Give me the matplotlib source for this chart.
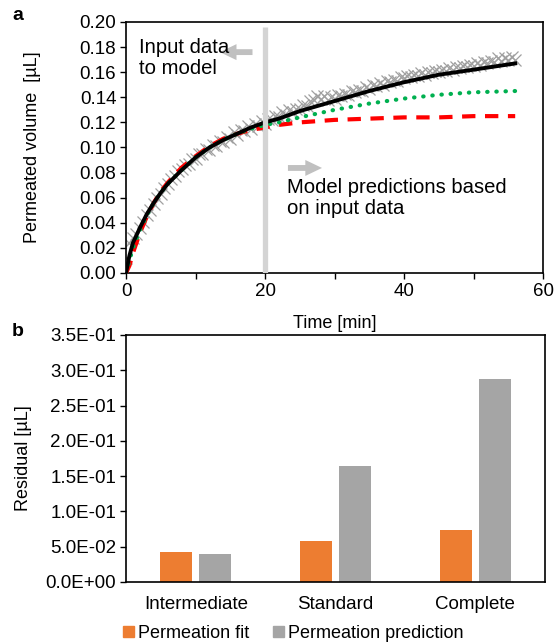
import matplotlib
matplotlib.use("Agg")
import matplotlib.pyplot as plt
import numpy as np
from matplotlib.ticker import FuncFormatter, MultipleLocator
from matplotlib.patches import Patch

plt.rcParams['font.family'] = ['Liberation Sans', 'DejaVu Sans']

# ---------------- data: panel a ----------------
time_data = [0.0, 0.5, 1.0, 1.5, 2.0, 2.5, 3.0, 3.5, 4.0, 4.5, 5.0, 5.5, 6.0, 6.5, 7.0, 7.5,
             8.0, 8.5, 9.0, 9.5, 10.0, 10.5, 11.0, 11.5, 12.0, 12.5, 13.0, 13.5, 14.0, 14.5,
             15.0, 15.5, 16.0, 16.5, 17.0, 17.5, 18.0, 18.5, 19.0, 19.5, 20.0, 20.5, 21.0,
             21.5, 22.0, 22.5, 23.0, 23.5, 24.0, 24.5, 25.0, 25.5, 26.0, 26.5, 27.0, 27.5,
             28.0, 28.5, 29.0, 29.5, 30.0, 30.5, 31.0, 31.5, 32.0, 32.5, 33.0, 33.5, 34.0,
             34.5, 35.0, 35.5, 36.0, 36.5, 37.0, 37.5, 38.0, 38.5, 39.0, 39.5, 40.0, 40.5,
             41.0, 41.5, 42.0, 42.5, 43.0, 43.5, 44.0, 44.5, 45.0, 45.5, 46.0, 46.5, 47.0,
             47.5, 48.0, 48.5, 49.0, 49.5, 50.0, 50.5, 51.0, 51.5, 52.0, 52.5, 53.0, 53.5,
             54.0, 54.5, 55.0, 55.5, 56.0]
volume_data = [0.012, 0.024, 0.028, 0.031, 0.036, 0.041, 0.046, 0.050, 0.055, 0.060, 0.063,
               0.068, 0.071, 0.075, 0.077, 0.081, 0.083, 0.086, 0.087, 0.091, 0.091, 0.095,
               0.095, 0.099, 0.098, 0.102, 0.101, 0.105, 0.104, 0.108, 0.107, 0.112, 0.110,
               0.114, 0.113, 0.117, 0.115, 0.119, 0.117, 0.121, 0.119, 0.123, 0.122, 0.125,
               0.124, 0.128, 0.126, 0.130, 0.128, 0.131, 0.131, 0.134, 0.133, 0.137, 0.138,
               0.141, 0.139, 0.141, 0.138, 0.140, 0.139, 0.142, 0.141, 0.143, 0.142, 0.145,
               0.144, 0.146, 0.145, 0.148, 0.147, 0.150, 0.149, 0.151, 0.150, 0.153, 0.152,
               0.154, 0.153, 0.156, 0.155, 0.157, 0.156, 0.158, 0.157, 0.159, 0.158, 0.160,
               0.159, 0.161, 0.160, 0.162, 0.161, 0.163, 0.162, 0.164, 0.163, 0.165, 0.164,
               0.166, 0.165, 0.167, 0.166, 0.168, 0.167, 0.169, 0.168, 0.171, 0.169, 0.171,
               0.170, 0.172, 0.170]

time_model = [0, 0.5, 1, 2, 3, 4, 5, 6, 8, 10, 12, 14, 16, 18, 20, 22, 25, 30, 35, 40, 45, 50, 56]
fit_complete = [0.0, 0.014, 0.024, 0.036, 0.047, 0.056, 0.064, 0.071, 0.082, 0.092, 0.100,
                0.106, 0.111, 0.116, 0.120, 0.123, 0.129, 0.137, 0.145, 0.152, 0.158, 0.162, 0.167]
pred_standard = [0.0, 0.010, 0.020, 0.034, 0.046, 0.056, 0.064, 0.071, 0.082, 0.092, 0.100,
                 0.106, 0.111, 0.115, 0.118, 0.120, 0.124, 0.130, 0.135, 0.139, 0.142, 0.144, 0.145]
pred_intermediate = [0.0, 0.006, 0.016, 0.032, 0.045, 0.056, 0.065, 0.072, 0.084, 0.093, 0.101,
                     0.107, 0.111, 0.114, 0.116, 0.118, 0.120, 0.122, 0.123, 0.124, 0.124, 0.125, 0.125]
split_time = 20

# ---------------- data: panel b ----------------
models = ['Intermediate', 'Standard', 'Complete']
residual_fit = [0.043, 0.058, 0.073]
residual_pred = [0.039, 0.165, 0.288]
series_names = ['Permeation fit', 'Permeation prediction']

ORANGE = '#ED7D31'
GRAY = '#A5A5A5'

fig = plt.figure(figsize=(5.54, 6.43), dpi=100)
W, H = 554, 643

def ax_rect(l, t, r, b):
    return [l / W, 1 - b / H, (r - l) / W, (b - t) / H]

TFS = 13.5   # tick labels
LFS = 13     # axis labels / legend
# ---------- panel a ----------
ax1 = fig.add_axes(ax_rect(126, 22, 543, 273))
ax1.plot(time_data, volume_data, linestyle='none', marker='x', ms=8, mew=0.9,
         color='#A0A0A0', zorder=2)
ax1.plot(time_model, pred_intermediate, color='#FF0000', lw=3, dashes=(3.2, 2.3), zorder=3)
ax1.plot(time_model, pred_standard, color='#00B050', lw=3, dashes=(0.1, 2.1),
         dash_capstyle='round', zorder=3)
ax1.plot(time_model, fit_complete, color='black', lw=2.8, zorder=4)
ax1.plot([split_time, split_time], [0, 0.196], color='#D4D4D4', lw=3.8, zorder=5,
         solid_capstyle='butt')

ax1.set_xlim(0, 60)
ax1.set_ylim(0, 0.2)
ax1.xaxis.set_major_locator(MultipleLocator(20))
ax1.xaxis.set_minor_locator(MultipleLocator(10))
ax1.yaxis.set_major_locator(MultipleLocator(0.02))
ax1.yaxis.set_major_formatter(FuncFormatter(lambda v, p: f"{v:.2f}"))
ax1.tick_params(axis='both', which='both', direction='out', length=4, width=1,
                labelsize=TFS, pad=3)
for s in ax1.spines.values():
    s.set_linewidth(1.2)
ax1.set_xlabel('Time [min]', fontsize=LFS, labelpad=11)
ax1.set_ylabel('Permeated volume  [µL]', fontsize=LFS, labelpad=28)

arrow_kw = dict(arrowstyle='simple,head_length=1.2,head_width=1.15,tail_width=0.42',
                color='#C0C0C0', lw=0, mutation_scale=10)
ax1.annotate('', xy=(13.1, 0.176), xytext=(18.6, 0.176), arrowprops=arrow_kw, zorder=6)
ax1.annotate('', xy=(28.6, 0.0837), xytext=(22.9, 0.0837), arrowprops=arrow_kw, zorder=6)
ax1.text(1.9, 0.1715, 'Input data\nto model', fontsize=14.6, va='center', ha='left',
         linespacing=1.12, zorder=7)
ax1.text(23.2, 0.0597, 'Model predictions based\non input data', fontsize=14.6,
         va='center', ha='left', linespacing=1.12, zorder=7)

fig.text(12 / W, 1 - 15 / H, 'a', fontsize=14, fontweight='bold', va='center', ha='left')
fig.text(12 / W, 1 - 332 / H, 'b', fontsize=14, fontweight='bold', va='center', ha='left')

# ---------- panel b ----------
ax2 = fig.add_axes(ax_rect(126, 335, 545, 582))
x = np.arange(len(models))
bw = 0.23
ax2.bar(x - 0.14, residual_fit, width=bw, color=ORANGE, label=series_names[0])
ax2.bar(x + 0.14, residual_pred, width=bw, color=GRAY, label=series_names[1])
ax2.set_xlim(-0.5, 2.5)
ax2.set_ylim(0, 0.35)
ax2.set_xticks(x)
ax2.set_xticklabels(models)
ax2.yaxis.set_major_locator(MultipleLocator(0.05))
ax2.yaxis.set_major_formatter(FuncFormatter(lambda v, p: f"{v:.1E}"))
ax2.tick_params(axis='y', direction='out', length=4, width=1, labelsize=TFS, pad=3)
ax2.tick_params(axis='x', length=0, labelsize=TFS, pad=10)
for s in ax2.spines.values():
    s.set_linewidth(1.2)
ax2.set_ylabel('Residual [µL]', fontsize=LFS, labelpad=10)

handles = [Patch(color=ORANGE), Patch(color=GRAY)]
fig.legend(handles, series_names, loc='center left', bbox_to_anchor=(123 / W, 9.5 / H),
           ncol=2, frameon=False, fontsize=LFS, borderpad=0, borderaxespad=0,
           handlelength=0.6, handleheight=0.6, handletextpad=0.25, columnspacing=1.3)

fig.savefig('out.png', dpi=100)
